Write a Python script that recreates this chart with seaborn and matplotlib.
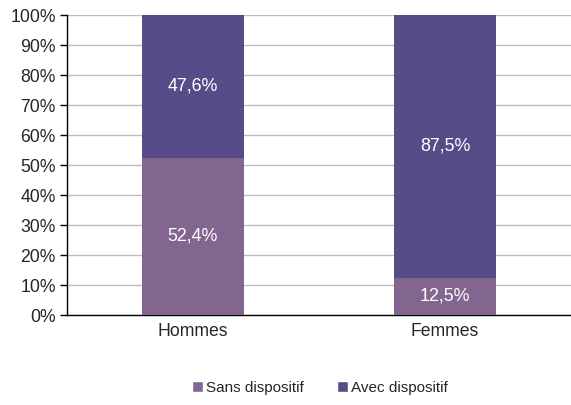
import matplotlib
matplotlib.use("Agg")
import matplotlib.pyplot as plt
import seaborn as sns
import pandas as pd
from matplotlib.patches import Patch
from matplotlib.ticker import FuncFormatter

sns.set_style("white")
plt.rcParams['font.family'] = ['Liberation Sans', 'DejaVu Sans']

categories = ["Hommes", "Femmes"]
sans = [52.4, 12.5]
avec = [47.6, 87.5]
series = ["Sans dispositif", "Avec dispositif"]
colors = ["#82668F", "#574C87"]

df = pd.DataFrame({"cat": categories, "sans": sans, "avec": avec})
df["total"] = df["sans"] + df["avec"]

fig = plt.figure(figsize=(5.71, 4.05), dpi=100)
ax = fig.add_axes([67 / 571, 90 / 405, 504 / 571, 300 / 405])

# stacked: total bar first, then bottom segment over it
sns.barplot(data=df, x="cat", y="total", color=colors[1], width=0.405,
            saturation=1, ax=ax, zorder=3, linewidth=0)
sns.barplot(data=df, x="cat", y="sans", color=colors[0], width=0.405,
            saturation=1, ax=ax, zorder=3, linewidth=0)

for i, (s, a) in enumerate(zip(sans, avec)):
    ax.text(i, s / 2, f"{s:.1f}%".replace(".", ","), ha="center", va="center",
            color="white", fontsize=12.9, zorder=4)
    ax.text(i, s + a / 2, f"{a:.1f}%".replace(".", ","), ha="center", va="center",
            color="white", fontsize=12.9, zorder=4)

ax.set_xlim(-0.5, 1.5)
ax.set_ylim(0, 100)
ax.set_yticks(range(0, 101, 10))
ax.yaxis.set_major_formatter(FuncFormatter(lambda v, p: f"{int(v)}%"))
ax.yaxis.grid(True, color="#BDBDBD", linewidth=1, zorder=0)
ax.set_axisbelow(True)

ax.set_xticks([0, 1])
ax.set_xticklabels(categories)
ax.set_xticks([0.5], minor=True)
ax.tick_params(axis="x", which="major", length=0, labelsize=12.7, pad=6)
ax.tick_params(axis="x", which="minor", length=5, width=1, color="black", direction="out")
ax.tick_params(axis="y", length=5, width=1, color="black", direction="out",
               labelsize=12.7, pad=3, left=True)
ax.set_xlabel("")
ax.set_ylabel("")

for side in ["top", "right"]:
    ax.spines[side].set_visible(False)
for side in ["left", "bottom"]:
    ax.spines[side].set_color("black")
    ax.spines[side].set_linewidth(1)

handles = [Patch(facecolor=c, label=l) for c, l in zip(colors, series)]
fig.legend(handles=handles, loc="center", bbox_to_anchor=(0.56, 0.042), ncol=2,
           frameon=False, fontsize=11, handlelength=0.7, handleheight=0.7,
           handletextpad=0.2, columnspacing=2.2)

fig.savefig("out.png", dpi=100)
